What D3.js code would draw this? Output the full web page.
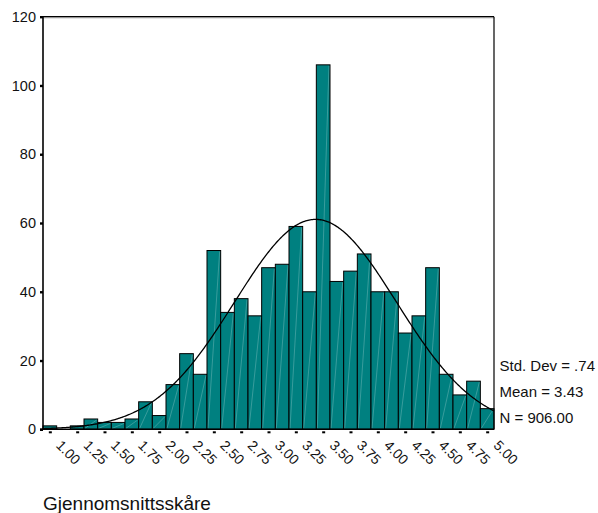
<!DOCTYPE html>
<html>
<head>
<meta charset="utf-8">
<script src="https://cdn.jsdelivr.net/npm/d3@7/dist/d3.min.js"></script>
<style>
  html, body { margin: 0; padding: 0; background: #fff; }
  svg { display: block; font-family: "Liberation Sans", Arial, sans-serif; }
</style>
</head>
<body>
<svg id="chart" width="598" height="513"></svg>
<script>
// Bin midpoints (width 0.125) and their frequencies
const binWidth = 0.125;
const binCenters = d3.range(33).map(i => 1 + i * binWidth);
const counts = [1, 0, 1, 3, 2, 2, 3, 8, 4, 13, 22, 16, 52, 34, 38, 33, 47, 48, 59, 40,
                106, 43, 46, 51, 40, 40, 28, 33, 47, 16, 10, 14, 6];

// Axis ticks
const xTickValues = [1.00, 1.25, 1.50, 1.75, 2.00, 2.25, 2.50, 2.75, 3.00, 3.25, 3.50,
                     3.75, 4.00, 4.25, 4.50, 4.75, 5.00];
const yTickValues = [0, 20, 40, 60, 80, 100, 120];

// Summary statistics
const stdDev = 0.74;
const mean = 3.43;
const nCases = 906;
const statLines = ["Std. Dev = .74", "Mean = 3.43", "N = 906.00"];
const axisTitle = "Gjennomsnittsskåre";

const svg = d3.select("#chart");
const plotLeft = 43, plotRight = 494, plotTop = 16.7, plotBottom = 429.3;

const x = d3.scaleLinear()
  .domain([binCenters[0] - binWidth / 2, binCenters[binCenters.length - 1] + binWidth / 2])
  .range([plotLeft, plotRight]);
const y = d3.scaleLinear().domain([0, 120]).range([plotBottom, plotTop]);

const bins = binCenters.map((c, i) => ({ c, n: counts[i] }));

// Bars
const barG = svg.append("g");
barG.selectAll("rect")
  .data(bins.filter(d => d.n > 0))
  .join("rect")
  .attr("x", d => x(d.c - binWidth / 2))
  .attr("y", d => y(d.n))
  .attr("width", d => x(d.c + binWidth / 2) - x(d.c - binWidth / 2))
  .attr("height", d => y(0) - y(d.n))
  .attr("fill", "#008080")
  .attr("stroke", "#000")
  .attr("stroke-width", 1);

// Faint diagonal seams inside each bar
barG.selectAll("line.seam")
  .data(bins.filter(d => d.n > 1))
  .join("line")
  .attr("class", "seam")
  .attr("x1", d => x(d.c - binWidth / 2) + 1)
  .attr("y1", d => y(0) - 1)
  .attr("x2", d => x(d.c + binWidth / 2) - 1)
  .attr("y2", d => y(d.n) + 1)
  .attr("stroke", "rgba(255,255,255,0.28)")
  .attr("stroke-width", 0.8);

// Fitted normal curve
const peak = nCases * binWidth / (stdDev * Math.sqrt(2 * Math.PI));
const curvePts = d3.range(0, 401).map(k => {
  const xv = x.domain()[0] + (x.domain()[1] - x.domain()[0]) * k / 400;
  const z = (xv - mean) / stdDev;
  return [xv, peak * Math.exp(-0.5 * z * z)];
});
svg.append("path")
  .datum(curvePts)
  .attr("fill", "none")
  .attr("stroke", "#000")
  .attr("stroke-width", 1.3)
  .attr("d", d3.line().x(d => x(d[0])).y(d => y(d[1])));

// Frame
svg.append("line").attr("x1", plotLeft).attr("x2", plotRight).attr("y1", plotTop).attr("y2", plotTop)
  .attr("stroke", "#000").attr("stroke-width", 1.4);
svg.append("line").attr("x1", plotLeft).attr("x2", plotRight + 0.5)
  .attr("y1", plotTop + 1.3).attr("y2", plotTop + 1.3)
  .attr("stroke", "#bbb").attr("stroke-width", 0.8);
svg.append("line").attr("x1", plotRight).attr("x2", plotRight).attr("y1", plotTop).attr("y2", plotBottom)
  .attr("stroke", "#000").attr("stroke-width", 1.2);

// Y axis
const yAxis = d3.axisLeft(y).tickValues(yTickValues).tickSize(3).tickPadding(4)
  .tickFormat(d3.format("d"));
const yg = svg.append("g").attr("transform", `translate(${plotLeft},0)`).call(yAxis);
yg.select(".domain").attr("stroke", "#000").attr("stroke-width", 1.6)
  .attr("d", `M0,${plotTop}V${plotBottom}`);
yg.selectAll(".tick line").attr("stroke", "#000").attr("stroke-width", 2.4);
yg.selectAll(".tick text").attr("font-size", 14.5).attr("fill", "#111")
  .attr("font-family", "Liberation Sans, Arial, sans-serif");

// X axis
const xAxis = d3.axisBottom(x).tickValues(xTickValues).tickSize(0).tickFormat(d3.format(".2f"));
const xg = svg.append("g").attr("transform", `translate(0,${plotBottom})`).call(xAxis);
xg.select(".domain").attr("stroke", "#000").attr("stroke-width", 1.4)
  .attr("d", `M${plotLeft - 3},0H${plotRight}`);
xg.selectAll(".tick").append("rect")
  .attr("x", -1.5).attr("y", 2).attr("width", 3).attr("height", 2).attr("fill", "#000");
xg.selectAll(".tick text")
  .attr("font-size", 14).attr("fill", "#111")
  .attr("font-family", "Liberation Sans, Arial, sans-serif")
  .attr("text-anchor", "start")
  .attr("dy", null).attr("y", null)
  .attr("transform", "translate(5,17) rotate(45)");

// Summary statistics
svg.append("g").selectAll("text")
  .data(statLines)
  .join("text")
  .attr("x", 499.5)
  .attr("y", (d, i) => 370.7 + i * 26)
  .attr("font-size", 15)
  .attr("fill", "#111")
  .text(d => d);

// Axis title
svg.append("text")
  .attr("x", 43)
  .attr("y", 509.5)
  .attr("font-size", 19)
  .attr("fill", "#111")
  .text(axisTitle);
</script>
</body>
</html>
